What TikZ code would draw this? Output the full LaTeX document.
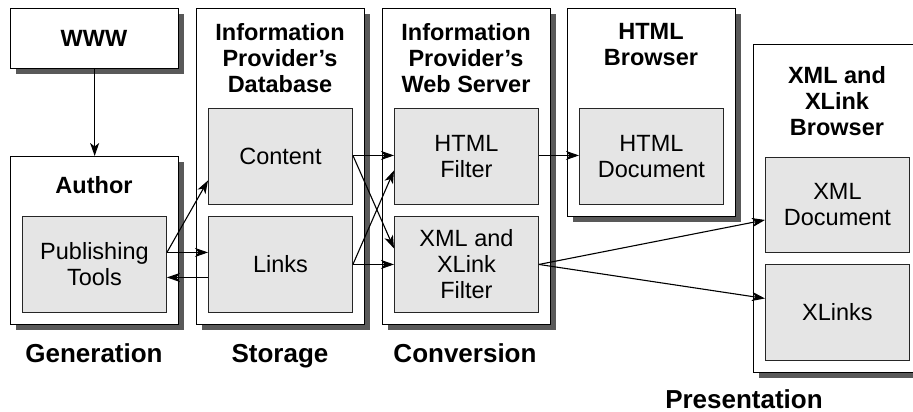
\documentclass[tikz,border=0pt]{standalone}
\usepackage{fontspec}
\setmainfont{Liberation Sans}
\usetikzlibrary{shadows,arrows.meta}
\begin{document}
\begin{tikzpicture}[x=1pt,y=-1pt,
  outerbox/.style={draw=black,line width=1.3pt,fill=white,anchor=north west,inner sep=0pt,
    minimum width=168pt,
    drop shadow={shadow xshift=5pt,shadow yshift=-5pt,fill=black!65,opacity=1}},
  innerbox/.style={draw=black!85,line width=0.9pt,fill=black!10,anchor=north west,
    minimum width=144pt,minimum height=96pt,inner sep=0pt,align=center,
    font=\fontsize{23.5}{26}\selectfont},
  titletext/.style={align=center,inner sep=0pt,font=\fontsize{23.5}{26}\selectfont\bfseries},
  phasetext/.style={inner sep=0pt,anchor=base,font=\fontsize{26}{30}\selectfont\bfseries},
  conn/.style={line width=1.1pt,-{Stealth[length=13pt,width=9pt,inset=3.5pt]}}
]
\useasboundingbox (0,0) rectangle (913,412);
\begin{scope}
\clip (0,0) rectangle (913,412);
% outer boxes
\node[outerbox,minimum height=60pt]  (www)  at (10,8)   {};
\node[outerbox,minimum height=168pt] (author) at (10,156) {};
\node[outerbox,minimum height=316pt] (db)   at (196,8)  {};
\node[outerbox,minimum height=316pt] (ws)   at (382,8)  {};
\node[outerbox,minimum height=208pt] (hb)   at (567,8)  {};
\node[outerbox,minimum height=328pt] (xb)   at (753,44) {};
\end{scope}
% titles
\node[titletext] (wwwt) at (94,38) {WWW};
\node[titletext] (autht) at (94,185) {Author};
\node[titletext] (dbt) at (280,58) {Information\\Provider’s\\Database};
\node[titletext] (wst) at (466,58) {Information\\Provider’s\\Web Server};
\node[titletext] (hbt) at (651,45) {HTML\\Browser};
\node[titletext] (xbt) at (837,101) {XML and\\XLink\\Browser};
% inner boxes
\node[innerbox] (pub) at (22,216) {Publishing\\Tools};
\node[innerbox] (content) at (208,108) {Content};
\node[innerbox] (links) at (208,216) {Links};
\node[innerbox] (hfilt) at (394,108) {HTML\\Filter};
\node[innerbox] (xfilt) at (394,216) {XML and\\XLink\\Filter};
\node[innerbox] (hdoc) at (579,108) {HTML\\Document};
\node[innerbox,minimum height=95pt] (xdoc) at (765,157) {XML\\Document};
\node[innerbox] (xlinks) at (765,264) {XLinks};
% phase labels
\node[phasetext] (gen) at (94,362) {Generation};
\node[phasetext] (sto) at (280,362) {Storage};
\node[phasetext] (conv) at (465,362) {Conversion};
\node[phasetext] (pres) at (744,408) {Presentation};
% connectors
\draw[conn] (www.south) -- (author.north);
\draw[conn] ([yshift=12pt]pub.east) -- ([yshift=-24pt]content.west);
\draw[conn] ([yshift=12pt]pub.east) -- ([yshift=12pt]links.west);
\draw[conn] ([yshift=-13pt]links.west) -- ([yshift=-13pt]pub.east);
\draw[conn] ([yshift=1pt]content.east) -- ([yshift=1pt]hfilt.west);
\draw[conn] ([yshift=1pt]content.east) -- ([yshift=16pt]xfilt.west);
\draw[conn] (links.east) -- ([yshift=-14pt]hfilt.west);
\draw[conn] (links.east) -- (xfilt.west);
\draw[conn] ([yshift=1pt]hfilt.east) -- ([yshift=1pt]hdoc.west);
\draw[conn] (xfilt.east) -- ([yshift=-15pt]xdoc.west);
\draw[conn] (xfilt.east) -- ([yshift=14pt]xlinks.west);
\end{tikzpicture}
\end{document}
